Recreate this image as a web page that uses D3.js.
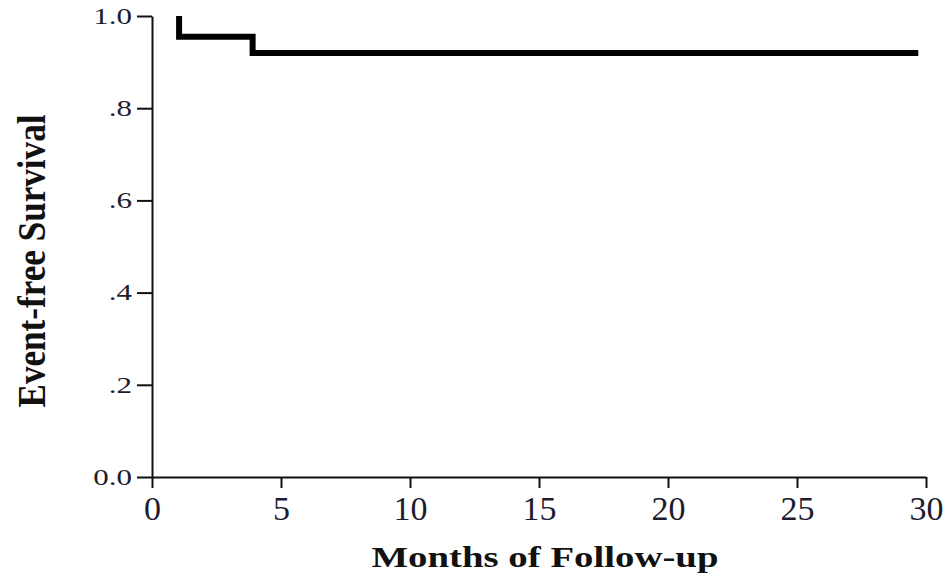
<!DOCTYPE html>
<html>
<head>
<meta charset="utf-8">
<script src="https://cdn.jsdelivr.net/npm/d3@7"></script>
<style>
    body { margin: 0; background: #fff; }
    .axis path, .axis line { stroke: #111; stroke-width: 2px; }
    .axis text { fill: #1c1c2e; font-family: "Liberation Serif", serif; }
    .title { font-family: "Liberation Serif", serif; font-weight: bold; fill: #111; }
</style>
</head>
<body>
<svg id="chart" width="947" height="576"></svg>
<script>
// data
let eventMonths = [1.05, 3.9];          // times of the two events
let survivalAfter = [0.955, 0.92];      // survival right after each event
let startSurvival = 1.0;
let lastFollowUp = 29.7;
let xTicks = [0, 5, 10, 15, 20, 25, 30];
let yTicks = [0, 0.2, 0.4, 0.6, 0.8, 1.0];
let yTickLabels = ["0.0", ".2", ".4", ".6", ".8", "1.0"];

var margin = {top: 16, right: 21, bottom: 99, left: 152};
var width = 947 - margin.left - margin.right;
var height = 576 - margin.top - margin.bottom;

var svg = d3.select("#chart");
let g = svg.append("g")
    .attr("transform", "translate(" + margin.left + "," + margin.top + ")");

let x = d3.scaleLinear().domain([0, 30]).range([0, width]);
let y = d3.scaleLinear().domain([0, 1]).range([height, 0]);

// x axis
let xAxis = g.append("g")
    .attr("class", "axis")
    .attr("transform", "translate(0," + height + ")")
    .call(d3.axisBottom(x).tickValues(xTicks).tickSize(11).tickSizeOuter(0).tickPadding(8));
xAxis.selectAll("text").style("font-size", "34px");

// y axis
let yAxis = g.append("g")
    .attr("class", "axis")
    .call(d3.axisLeft(y).tickValues(yTicks).tickSize(15).tickSizeOuter(0).tickPadding(5)
        .tickFormat(function(d, i) { return yTickLabels[i]; }));
// the labels in the figure are drawn wider than they are tall
let stretch = 1.35;
yAxis.selectAll("text")
    .style("font-size", "23px")
    .attr("x", -20 / stretch)
    .attr("transform", "scale(" + stretch + ",1)");

// survival curve
let pts = [{t: eventMonths[0], s: startSurvival}];
eventMonths.forEach(function(t, i) {
    pts.push({t: t, s: survivalAfter[i]});
});
pts.push({t: lastFollowUp, s: survivalAfter[survivalAfter.length - 1]});

let line = d3.line()
    .x(function(d) { return x(d.t); })
    .y(function(d) { return y(d.s); })
    .curve(d3.curveStepAfter);

g.append("path")
    .datum(pts)
    .attr("d", line)
    .attr("fill", "none")
    .attr("stroke", "#000")
    .attr("stroke-width", 6)
    .attr("stroke-linejoin", "miter");

// axis titles
svg.append("text")
    .attr("class", "title")
    .attr("x", 545)
    .attr("y", 567)
    .attr("text-anchor", "middle")
    .attr("textLength", 347)
    .attr("lengthAdjust", "spacingAndGlyphs")
    .style("font-size", "30px")
    .text("Months of Follow-up");

svg.append("text")
    .attr("class", "title")
    .attr("transform", "translate(45,261) rotate(-90)")
    .attr("text-anchor", "middle")
    .attr("textLength", 293)
    .attr("lengthAdjust", "spacingAndGlyphs")
    .style("font-size", "40px")
    .text("Event-free Survival");
</script>
</body>
</html>
